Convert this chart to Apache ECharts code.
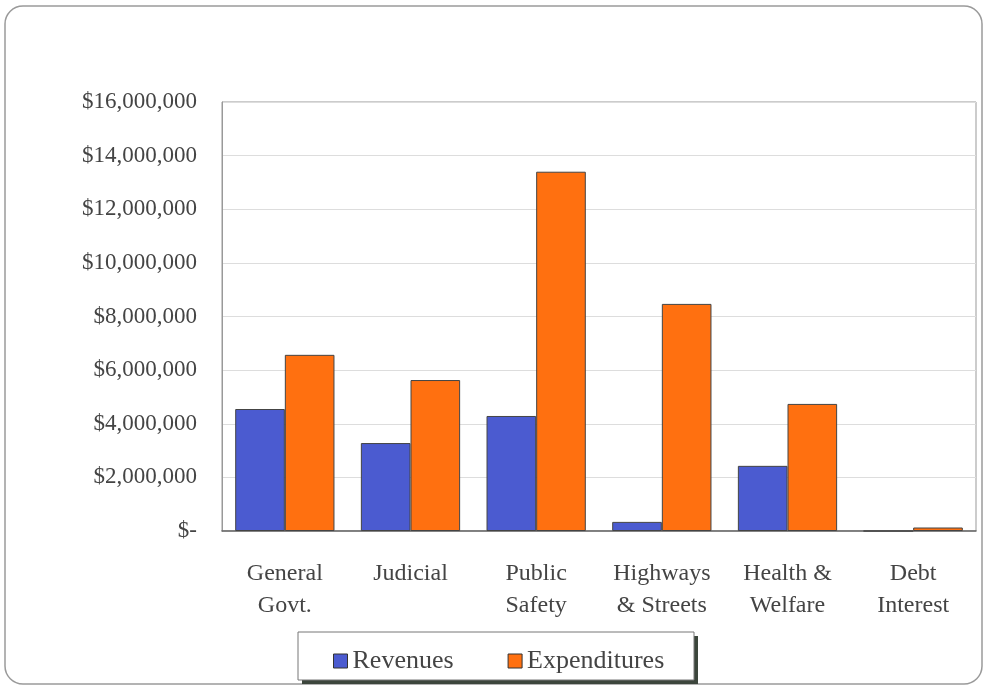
<!DOCTYPE html>
<html>
<head>
<meta charset="utf-8">
<script src="https://cdn.jsdelivr.net/npm/echarts@6/dist/echarts.min.js"></script>
<style>
  html, body { margin: 0; padding: 0; background: #fff; }
  #chart { width: 986px; height: 686px; }
</style>
</head>
<body>
<div id="chart"></div>
<script>
const categories = ['General\nGovt.', 'Judicial', 'Public\nSafety', 'Highways\n& Streets', 'Health &\nWelfare', 'Debt\nInterest']
const revenues = [4550000, 3280000, 4290000, 340000, 2430000, 0]
const expenditures = [6570000, 5630000, 13400000, 8470000, 4740000, 130000]
const yTicks = { min: 0, max: 16000000, interval: 2000000 }

const font = '"Liberation Serif", "DejaVu Serif", serif'
const chart = echarts.init(document.getElementById('chart'))

const fmtMoney = (v) => (v === 0 ? '$-' : '$' + v.toLocaleString('en-US'))

chart.setOption({
  animation: false,
  backgroundColor: '#fff',
  graphic: [
    // outer rounded frame
    {
      type: 'rect',
      shape: { x: 5, y: 6, width: 977, height: 678, r: 18 },
      style: { fill: 'none', stroke: '#9a9a9a', lineWidth: 1.5 },
      z: 0,
    },
    // legend shadow + box
    {
      type: 'rect',
      shape: { x: 302, y: 636, width: 396, height: 48 },
      style: { fill: '#3c463c' },
      z: 1,
    },
    {
      type: 'rect',
      shape: { x: 298, y: 632, width: 396, height: 48 },
      style: { fill: '#fff', stroke: '#777', lineWidth: 1 },
      z: 2,
    },
  ],
  legend: {
    left: 328,
    top: 643,
    itemWidth: 14,
    itemHeight: 14,
    itemGap: 54,
    icon: 'rect',
    z: 10,
    textStyle: { fontFamily: font, fontSize: 26, color: '#444' },
    data: [
      { name: 'Revenues', itemStyle: { borderColor: '#333', borderWidth: 1 } },
      { name: 'Expenditures', itemStyle: { borderColor: '#333', borderWidth: 1 } },
    ],
  },
  grid: {
    left: 222,
    right: 10,
    top: 102,
    bottom: 155,
    show: true,
    borderColor: '#999',
    borderWidth: 1,
  },
  xAxis: {
    type: 'category',
    data: categories,
    axisTick: { show: false },
    axisLine: { lineStyle: { color: '#666', width: 1.5 } },
    axisLabel: {
      interval: 0,
      margin: 27,
      fontFamily: font,
      fontSize: 24,
      lineHeight: 32,
      color: '#444',
    },
  },
  yAxis: {
    type: 'value',
    min: yTicks.min,
    max: yTicks.max,
    interval: yTicks.interval,
    axisLine: { show: true, lineStyle: { color: '#999' } },
    axisTick: { show: false },
    splitLine: { lineStyle: { color: '#ddd' } },
    axisLabel: {
      margin: 25,
      fontFamily: font,
      fontSize: 23,
      color: '#444',
      formatter: fmtMoney,
    },
  },
  series: [
    {
      name: 'Revenues',
      type: 'bar',
      data: revenues,
      barGap: '0%',
      barCategoryGap: '21%',
      itemStyle: { color: '#4b5bd0', borderColor: '#444', borderWidth: 1 },
    },
    {
      name: 'Expenditures',
      type: 'bar',
      data: expenditures,
      itemStyle: { color: '#ff7010', borderColor: '#444', borderWidth: 1 },
    },
  ],
})

window.addEventListener('resize', () => chart.resize())
</script>
</body>
</html>
